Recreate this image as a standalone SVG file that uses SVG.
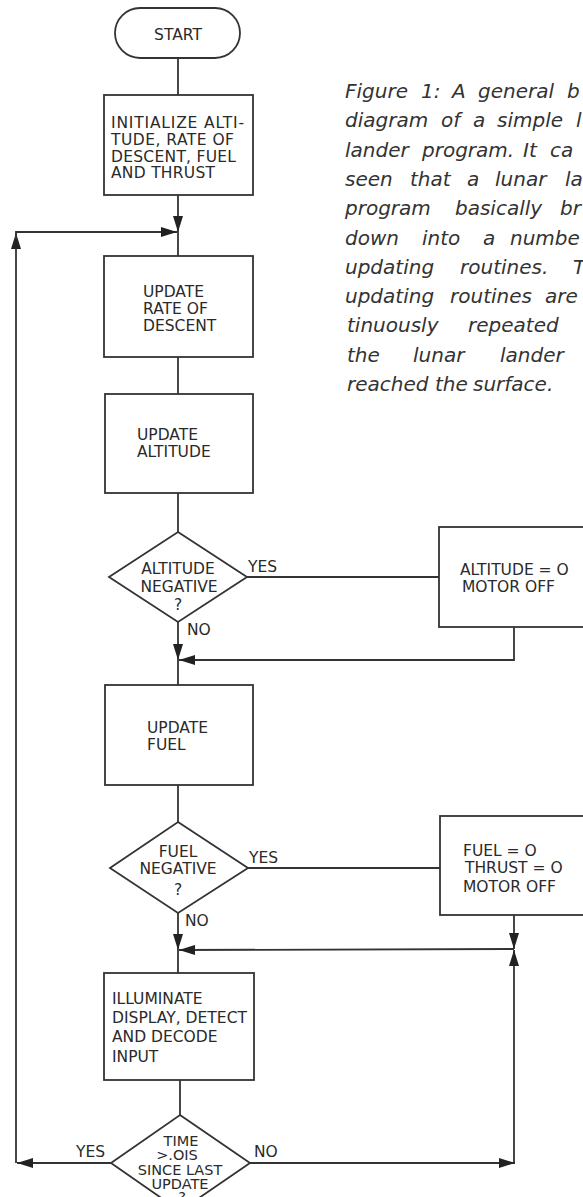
<svg xmlns="http://www.w3.org/2000/svg" width="583" height="1197" viewBox="0 0 583 1197">
<style>
.box{fill:#fff;stroke:#333;stroke-width:1.8}
.ln{fill:none;stroke:#333;stroke-width:1.8}
.arr{fill:none;stroke:#333;stroke-width:1.8;marker-end:url(#ah)}
.lbl{font-family:"DejaVu Sans",sans-serif;font-size:15.5px;fill:#2a2a2a}
.sm{font-size:14.5px}
.mid{text-anchor:middle}
.cap{font-family:"DejaVu Sans",sans-serif;font-style:italic;font-size:20px;fill:#333}
</style>
<defs>
<marker id="ah" markerUnits="userSpaceOnUse" markerWidth="16" markerHeight="10" refX="16" refY="5" orient="auto" viewBox="0 0 16 10"><path d="M0,0 L16,5 L0,10 z" fill="#222"/></marker>
</defs>
<rect width="583" height="1197" fill="#fff"/>

<g id="caption" class="cap">
<text y="98"><tspan x="345">Figure</tspan><tspan x="421">1:</tspan><tspan x="452">A</tspan><tspan x="478">general</tspan><tspan x="567">b</tspan></text>
<text y="127.3"><tspan x="345">diagram</tspan><tspan x="441">of</tspan><tspan x="473">a</tspan><tspan x="497">simple</tspan><tspan x="576">l</tspan></text>
<text y="156.6"><tspan x="345">lander</tspan><tspan x="422">program.</tspan><tspan x="523">It</tspan><tspan x="550">ca</tspan></text>
<text y="185.9"><tspan x="345">seen</tspan><tspan x="410">that</tspan><tspan x="467">a</tspan><tspan x="495">lunar</tspan><tspan x="565">la</tspan></text>
<text y="215.2"><tspan x="345">program</tspan><tspan x="455">basically</tspan><tspan x="560">br</tspan></text>
<text y="244.5"><tspan x="345">down</tspan><tspan x="422">into</tspan><tspan x="483">a</tspan><tspan x="510">numbe</tspan></text>
<text y="273.8"><tspan x="345">updating</tspan><tspan x="460">routines.</tspan><tspan x="573">T</tspan></text>
<text y="303.1"><tspan x="345">updating</tspan><tspan x="450">routines</tspan><tspan x="545">are</tspan></text>
<text y="332.4"><tspan x="347">tinuously</tspan><tspan x="468">repeated</tspan></text>
<text y="361.7"><tspan x="347">the</tspan><tspan x="413">lunar</tspan><tspan x="500">lander</tspan></text>
<text y="391"><tspan x="347">reached</tspan><tspan x="435">the</tspan><tspan x="473">surface.</tspan></text>
</g>

<g id="connectors">
<line class="ln" x1="178" y1="58" x2="178" y2="95"/>
<line class="arr" x1="178" y1="195" x2="178" y2="232"/>
<line class="arr" x1="111" y1="1163" x2="17" y2="1163"/>
<line class="arr" x1="16" y1="1163" x2="16" y2="233"/>
<polyline class="ln" points="16,240 16,232 30,232"/>
<line class="arr" x1="16" y1="232" x2="177" y2="232"/>
<line class="ln" x1="178" y1="232" x2="178" y2="256"/>
<line class="ln" x1="178" y1="357" x2="178" y2="394"/>
<line class="ln" x1="178" y1="493" x2="178" y2="532"/>
<line class="arr" x1="178" y1="622" x2="178" y2="660"/>
<line class="ln" x1="247" y1="577" x2="439" y2="577"/>
<polyline class="arr" points="514,627 514,660 179,660"/>
<line class="ln" x1="178" y1="660" x2="178" y2="685"/>
<line class="ln" x1="178" y1="785" x2="178" y2="822"/>
<line class="arr" x1="178" y1="913" x2="178" y2="950"/>
<line class="ln" x1="248" y1="868" x2="440" y2="868"/>
<line class="arr" x1="514" y1="915" x2="514" y2="949"/>
<line class="arr" x1="514" y1="949" x2="179" y2="950"/>
<line class="arr" x1="514" y1="1163" x2="514" y2="950"/>
<line class="arr" x1="250" y1="1163" x2="515" y2="1163"/>
<line class="ln" x1="178" y1="950" x2="178" y2="973"/>
<line class="ln" x1="180" y1="1080" x2="180" y2="1115"/>
</g>

<g id="start">
<rect class="box" x="115" y="8" width="125" height="50" rx="25" ry="25"/>
<text class="lbl mid" x="178" y="40">START</text>
</g>

<g id="init">
<rect class="box" x="104" y="95" width="149" height="100"/>
<text class="lbl" x="111" y="128" textLength="133" lengthAdjust="spacing">INITIALIZE ALTI-</text>
<text class="lbl" x="111" y="145" textLength="123" lengthAdjust="spacing">TUDE, RATE OF</text>
<text class="lbl" x="111" y="162" textLength="125" lengthAdjust="spacing">DESCENT, FUEL</text>
<text class="lbl" x="111" y="178" textLength="104" lengthAdjust="spacing">AND THRUST</text>
</g>

<g id="update-rate">
<rect class="box" x="104" y="256" width="149" height="101"/>
<text class="lbl" x="143" y="297">UPDATE</text>
<text class="lbl" x="143" y="314">RATE OF</text>
<text class="lbl" x="143" y="331">DESCENT</text>
</g>

<g id="update-altitude">
<rect class="box" x="105" y="394" width="148" height="99"/>
<text class="lbl" x="137" y="440">UPDATE</text>
<text class="lbl" x="137" y="457">ALTITUDE</text>
</g>

<g id="altitude-negative">
<polygon class="box" points="178,532 247,577 178,622 109,577"/>
<text class="lbl mid" x="178" y="574">ALTITUDE</text>
<text class="lbl mid" x="179" y="592">NEGATIVE</text>
<text class="lbl mid" x="178" y="610">?</text>
<text class="lbl" x="248" y="572">YES</text>
<text class="lbl" x="187" y="635">NO</text>
</g>

<g id="altitude-zero">
<rect class="box" x="439" y="527" width="170" height="100"/>
<text class="lbl" x="460" y="575">ALTITUDE = O</text>
<text class="lbl" x="462" y="592">MOTOR OFF</text>
</g>

<g id="update-fuel">
<rect class="box" x="105" y="685" width="148" height="100"/>
<text class="lbl" x="147" y="733">UPDATE</text>
<text class="lbl" x="147" y="750">FUEL</text>
</g>

<g id="fuel-negative">
<polygon class="box" points="178,822 248,868 178,913 110,868"/>
<text class="lbl mid" x="178" y="857">FUEL</text>
<text class="lbl mid" x="178" y="874">NEGATIVE</text>
<text class="lbl mid" x="178" y="895">?</text>
<text class="lbl" x="249" y="863">YES</text>
<text class="lbl" x="185" y="926">NO</text>
</g>

<g id="fuel-zero">
<rect class="box" x="440" y="816" width="170" height="99"/>
<text class="lbl" x="463" y="856">FUEL = O</text>
<text class="lbl" x="465" y="873">THRUST = O</text>
<text class="lbl" x="463" y="892">MOTOR OFF</text>
</g>

<g id="illuminate">
<rect class="box" x="104" y="973" width="150" height="107"/>
<text class="lbl" x="112" y="1004">ILLUMINATE</text>
<text class="lbl" x="112" y="1023" textLength="135" lengthAdjust="spacingAndGlyphs">DISPLAY, DETECT</text>
<text class="lbl" x="112" y="1042">AND DECODE</text>
<text class="lbl" x="112" y="1062">INPUT</text>
</g>

<g id="time-check">
<polygon class="box" points="180,1115 250,1163 180,1211 111,1163"/>
<text class="lbl sm mid" x="181" y="1146">TIME</text>
<text class="lbl sm mid" x="177" y="1160">&gt;.OIS</text>
<text class="lbl sm mid" x="180" y="1175">SINCE LAST</text>
<text class="lbl sm mid" x="180" y="1189">UPDATE</text>
<text class="lbl sm mid" x="182" y="1202">?</text>
<text class="lbl" x="76" y="1157">YES</text>
<text class="lbl" x="254" y="1157">NO</text>
</g>
</svg>
